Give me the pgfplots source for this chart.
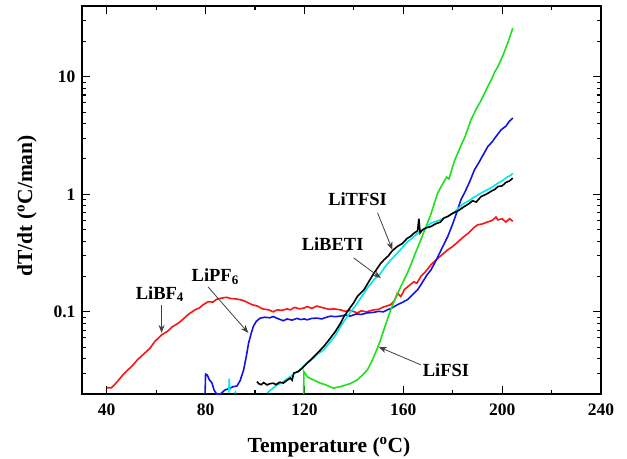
\documentclass[border=0pt]{standalone}
\usepackage{pgfplots}
\pgfplotsset{compat=1.18}
\usepackage{fontspec}
\setmainfont{Liberation Serif}
\usetikzlibrary{arrows.meta}
\definecolor{cred}{RGB}{250,20,20}
\definecolor{cblue}{RGB}{20,20,225}
\definecolor{cgreen}{RGB}{30,225,30}
\definecolor{ccyan}{RGB}{0,230,235}
\begin{document}
\begin{tikzpicture}
\useasboundingbox (-82bp,-65bp) rectangle (545bp,394bp);
\begin{axis}[
  scale only axis, width=519bp, height=388bp,
  xmin=30, xmax=240, ymode=log, ymin=0.02, ymax=40,
  xtick={40,80,120,160,200,240}, minor x tick num=1,
  ytick={0.1,1,10}, yticklabels={0.1,1,10},
  minor ytick={0.02,0.03,0.04,0.05,0.06,0.07,0.08,0.09,0.2,0.3,0.4,0.5,0.6,0.7,0.8,0.9,2,3,4,5,6,7,8,9,20,30},
  tick align=inside, tick pos=both, xticklabel pos=bottom, yticklabel pos=left,
  major tick length=8bp, minor tick length=4bp,
  every tick/.style={black, line width=1.1bp},
  axis line style={line width=1.5bp},
  /pgf/number format/assume math mode=true,
  tick label style={font=\fontsize{17.5bp}{20bp}\selectfont\bfseries},
  xticklabel style={anchor=base, yshift=-21bp},
  yticklabel style={xshift=-3bp},
  xlabel={Temperature (\textsuperscript{o}C)},
  ylabel={dT/dt (\textsuperscript{o}C/man)},
  label style={font=\fontsize{21.5bp}{24bp}\selectfont\bfseries},
  xlabel style={at={(axis description cs:0.476,0)}, anchor=base, yshift=-58bp},
  ylabel style={at={(axis description cs:-0.106,0.485)}, anchor=center},
  clip=true,
  every axis plot/.append style={line width=1.6bp, no marks},
]
% LiBF4 (red)
\addplot[cred] coordinates {
(40.0,0.0226)(41.9,0.0226)(42.6,0.0233)(44.5,0.0258)(46.5,0.0290)(48.6,0.0321)(50.5,0.0350)(52.5,0.0392)
(55.4,0.0446)(57.5,0.0490)(59.5,0.0560)(62.2,0.0637)(64.5,0.0680)(66.5,0.0745)(69.0,0.0801)(71.0,0.0870)
(73.0,0.0950)(75.7,0.1040)(77.5,0.1080)(79.0,0.1150)(81.1,0.1220)(83.0,0.1210)(84.5,0.1280)(86.6,0.1310)
(88.5,0.1330)(90.0,0.1300)(92.0,0.1290)(94.0,0.1270)(96.0,0.1230)(98.8,0.1150)(101.0,0.1120)(103.0,0.1060)
(105.5,0.1040)(107.4,0.1000)(109.0,0.1040)(111.0,0.1030)(113.0,0.1060)(114.3,0.1040)(116.0,0.1090)(118.0,0.1060)
(120.0,0.1080)(121.1,0.1110)(123.0,0.1070)(125.0,0.1120)(127.7,0.1080)(130.0,0.1050)(132.0,0.1060)(134.6,0.1040)
(136.5,0.1010)(138.5,0.1030)(141.4,0.0980)(143.0,0.1020)(145.0,0.1000)(148.0,0.1040)(150.0,0.1050)(152.0,0.1100)
(154.9,0.1150)(156.5,0.1250)(157.6,0.1440)(159.0,0.1350)(160.5,0.1550)(162.0,0.1650)(164.3,0.1800)(165.5,0.1750)
(167.1,0.2000)(169.0,0.2200)(171.2,0.2510)(173.5,0.2800)(176.0,0.3100)(178.0,0.3370)(180.0,0.3600)(182.5,0.4000)
(184.6,0.4380)(186.5,0.4700)(188.5,0.5200)(190.1,0.5500)(192.0,0.5600)(194.0,0.5800)(196.0,0.6000)(197.5,0.6400)
(198.3,0.6060)(200.0,0.6200)(201.5,0.5800)(203.0,0.6200)(204.3,0.5900)
};
% LiPF6 (blue)
\addplot[cblue] coordinates {
(79.8,0.0200)(80.0,0.0295)(80.7,0.0290)(81.5,0.0265)(82.5,0.0250)(83.5,0.0215)(84.5,0.0200)(86.0,0.0200)
(87.9,0.0217)(89.5,0.0222)(91.2,0.0231)(92.7,0.0234)(94.0,0.0260)(95.4,0.0321)(96.5,0.0420)(97.4,0.0542)
(98.5,0.0660)(99.3,0.0750)(100.5,0.0830)(102.1,0.0884)(104.0,0.0900)(106.0,0.0890)(107.4,0.0912)(109.0,0.0880)
(111.5,0.0840)(113.0,0.0870)(115.0,0.0850)(117.0,0.0880)(118.4,0.0860)(120.0,0.0870)(121.1,0.0855)(123.0,0.0880)
(125.2,0.0884)(127.0,0.0870)(129.0,0.0900)(130.6,0.0920)(132.5,0.0910)(134.6,0.0920)(136.5,0.0940)(138.5,0.0920)
(141.0,0.0960)(143.0,0.0950)(145.5,0.0980)(148.0,0.0990)(150.0,0.1010)(152.0,0.1000)(153.6,0.1040)(155.5,0.1080)
(157.6,0.1150)(159.5,0.1200)(161.7,0.1270)(163.0,0.1350)(164.3,0.1440)(165.8,0.1540)(167.5,0.1750)(169.5,0.2050)
(171.2,0.2275)(173.5,0.2800)(176.0,0.3600)(178.0,0.4380)(180.0,0.5600)(182.0,0.7380)(183.3,0.8970)(185.0,1.0500)
(187.0,1.3000)(188.8,1.6160)(190.5,1.8500)(192.5,2.2000)(194.2,2.5500)(196.0,2.8000)(197.5,3.1000)(199.6,3.5400)
(201.5,3.8000)(203.0,4.2000)(204.3,4.4600)
};
% LiFSI (green)
\addplot[cgreen] coordinates {
(119.7,0.0200)(119.8,0.0310)(120.5,0.0295)(121.1,0.0281)(122.5,0.0270)(124.0,0.0262)(126.5,0.0247)(128.5,0.0240)
(130.0,0.0232)(131.8,0.0224)(133.0,0.0228)(134.6,0.0231)(136.5,0.0238)(138.5,0.0245)(141.4,0.0264)(143.5,0.0290)
(145.5,0.0321)(147.0,0.0370)(148.1,0.0417)(149.5,0.0490)(150.8,0.0578)(152.5,0.0740)(154.9,0.1040)(157.0,0.1330)
(159.0,0.1640)(161.6,0.2130)(163.0,0.2500)(165.0,0.3200)(167.1,0.4100)(169.0,0.5200)(171.0,0.6600)(173.9,1.0240)
(175.5,1.1800)(177.5,1.4000)(178.5,1.3500)(180.6,1.9000)(183.0,2.5000)(185.0,3.1000)(187.4,4.3100)(189.5,5.3000)
(191.5,6.3000)(194.2,8.2600)(196.0,9.8000)(197.0,11.000)(198.3,12.200)(200.5,15.500)(202.5,20.000)(204.3,25.900)
};
% LiBETI (cyan)
\addplot[ccyan] coordinates {
(104.9,0.0204)(107.0,0.0222)(109.0,0.0240)(111.0,0.0250)(112.5,0.0265)(114.3,0.0281)(116.0,0.0300)(118.0,0.0320)
(121.1,0.0366)(123.5,0.0400)(125.5,0.0440)(127.8,0.0475)(130.0,0.0540)(132.5,0.0630)(134.6,0.0750)(137.3,0.0912)
(139.5,0.1050)(141.4,0.1186)(144.1,0.1440)(146.0,0.1650)(148.1,0.1870)(150.9,0.2130)(152.5,0.2400)(154.5,0.2700)
(157.6,0.3160)(159.5,0.3500)(161.5,0.3900)(164.4,0.4380)(166.0,0.4700)(168.5,0.5100)(171.2,0.5690)(173.5,0.5900)
(176.0,0.6200)(178.0,0.6480)(180.5,0.7000)(182.5,0.7700)(184.7,0.8410)(186.5,0.8800)(188.5,0.9400)(191.5,1.0240)
(193.5,1.0800)(196.0,1.1500)(198.3,1.2450)(200.0,1.3000)(202.0,1.4000)(203.5,1.4500)(204.3,1.5100)
};
\addplot[ccyan] coordinates {(89.4,0.0205)(89.6,0.0270)(89.8,0.0215)};
\addplot[ccyan] coordinates {(91.8,0.0203)(92.4,0.0210)};
% LiTFSI (black)
\addplot[black] coordinates {
(100.8,0.0255)(101.5,0.0245)(102.5,0.0240)(103.5,0.0250)(104.9,0.0239)(106.0,0.0245)(107.5,0.0247)(108.5,0.0240)
(110.0,0.0252)(111.5,0.0248)(113.0,0.0262)(114.3,0.0273)(115.0,0.0262)(115.7,0.0301)(117.5,0.0310)(119.0,0.0330)
(121.1,0.0366)(123.0,0.0400)(125.0,0.0440)(127.8,0.0507)(130.0,0.0580)(132.5,0.0680)(134.6,0.0800)(136.0,0.0912)
(138.0,0.1050)(140.0,0.1200)(141.4,0.1350)(144.1,0.1540)(146.0,0.1800)(148.1,0.2130)(150.9,0.2590)(152.2,0.2770)
(154.0,0.3000)(155.5,0.3300)(157.6,0.3600)(159.5,0.3800)(161.5,0.4200)(163.0,0.4400)(164.4,0.4680)(165.8,0.4900)
(166.3,0.6200)(166.8,0.4700)(167.8,0.4990)(169.5,0.5200)(171.2,0.5320)(173.0,0.5600)(175.0,0.5800)(176.5,0.6300)
(178.0,0.6480)(180.0,0.6900)(182.0,0.7200)(184.7,0.7870)(186.5,0.8300)(188.0,0.8800)(189.5,0.8600)(191.5,0.9570)
(193.5,1.0000)(195.5,1.0600)(197.0,1.1000)(198.3,1.1640)(200.0,1.1800)(201.5,1.2600)(203.0,1.3000)(204.3,1.3730)
};
% annotations
\begin{scope}[every node/.style={font=\fontsize{18.5bp}{21bp}\selectfont\bfseries, inner sep=0pt},
  ann/.style={-{Stealth[length=8bp,width=6bp]}, line width=0.8bp, black!75}]
\node at (axis cs:61.5,0.142) {LiBF$_{\mathbf{4}}$};
\draw[ann] (axis cs:62.2,0.115) -- (axis cs:62.2,0.0662);
\node at (axis cs:83.9,0.199) {LiPF$_{\mathbf{6}}$};
\draw[ann] (axis cs:81.0,0.163) -- (axis cs:97.3,0.0662);
\node at (axis cs:141.5,0.916) {LiTFSI};
\draw[ann] (axis cs:149.6,0.696) -- (axis cs:155.6,0.337);
\node at (axis cs:131.4,0.379) {LiBETI};
\draw[ann] (axis cs:139.9,0.288) -- (axis cs:150.9,0.194);
\node at (axis cs:177.3,0.0321) {LiFSI};
\draw[ann] (axis cs:167.1,0.0354) -- (axis cs:150.05,0.0503);
\end{scope}
\end{axis}
\end{tikzpicture}
\end{document}
